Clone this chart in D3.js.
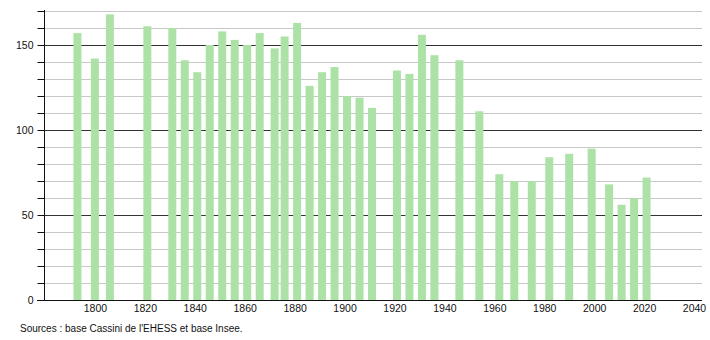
<!DOCTYPE html>
<html>
<head>
<meta charset="utf-8">
<script src="https://cdn.jsdelivr.net/npm/d3@7"></script>
<style>
  body { margin: 0; background: #fff; }
  text { font-family: "Liberation Sans", Arial, sans-serif; fill: #111; }
</style>
</head>
<body>
<div id="chart"></div>
<script>

// census years and population
var years = [1793, 1800, 1806, 1821, 1831, 1836, 1841, 1846, 1851, 1856, 1861, 1866, 1872, 1876, 1881,
             1886, 1891, 1896, 1901, 1906, 1911, 1921, 1926, 1931, 1936, 1946, 1954, 1962, 1968, 1975,
             1982, 1990, 1999, 2006, 2011, 2016, 2021];
var population = [157, 142, 168, 161, 160, 141, 134, 150, 158, 153, 150, 157, 148, 155, 163,
                  126, 134, 137, 120, 119, 113, 135, 133, 156, 144, 141, 111, 74, 70, 70,
                  84, 86, 89, 68, 56, 60, 72];
var xTicks = [1800, 1820, 1840, 1860, 1880, 1900, 1920, 1940, 1960, 1980, 2000, 2020, 2040];
var yTicks = [0, 50, 100, 150];
var source = "Sources : base Cassini de l'EHESS et base Insee.";

var data = years.map(function(y, i) { return {year: y, value: population[i]}; });

var W = 710, H = 340;
var m = {left: 44, right: 700, top: 11, bottom: 300};

var svg = d3.select("#chart").append("svg")
    .attr("width", W)
    .attr("height", H);

var x = d3.scaleLinear()
    .domain([1779.6, 2042.4])
    .range([m.left, m.right]);

var y = d3.scaleLinear()
    .domain([0, 170])
    .range([m.bottom, m.top]);

// grid lines, every 10, darker every 50
var gridVals = d3.range(10, 171, 10);
svg.append("g").selectAll("line")
    .data(gridVals)
    .enter().append("line")
    .attr("x1", m.left)
    .attr("x2", m.right + 2)
    .attr("y1", function(d) { return Math.round(y(d)) + 0.5; })
    .attr("y2", function(d) { return Math.round(y(d)) + 0.5; })
    .attr("stroke", function(d) { return d % 50 == 0 ? "#333" : "#c8c8c8"; })
    .attr("stroke-width", 1);

// bars
svg.append("g").selectAll("rect")
    .data(data)
    .enter().append("rect")
    .attr("x", function(d) { return x(d.year) - 4; })
    .attr("width", 8)
    .attr("y", function(d) { return y(d.value); })
    .attr("height", function(d) { return y(0) - y(d.value); })
    .attr("fill", "#ade2a7");

// y axis
var yAxis = d3.axisLeft(y)
    .tickValues(d3.range(0, 171, 10))
    .tickSize(7)
    .tickFormat(function(d) { return yTicks.indexOf(d) >= 0 ? d : ""; });

var yGroup = svg.append("g")
    .attr("transform", "translate(" + (m.left + 0.5) + ",0)")
    .call(yAxis);
yGroup.select(".domain").attr("stroke", "#111").attr("d", "M0," + (m.top - 1) + "V" + m.bottom);
yGroup.selectAll(".tick line").attr("stroke", "#111");
yGroup.selectAll(".tick text")
    .attr("x", -11)
    .style("font-size", "10.5px");

// x axis
var xAxis = d3.axisBottom(x)
    .tickValues(xTicks)
    .tickSize(0)
    .tickFormat(d3.format("d"));

var xGroup = svg.append("g")
    .attr("transform", "translate(0," + (m.bottom + 0.5) + ")")
    .call(xAxis);
xGroup.select(".domain").attr("stroke", "#111").attr("d", "M" + (m.left - 7) + ",0H" + (m.right + 2));
xGroup.selectAll(".tick text")
    .attr("y", 4)
    .style("font-size", "10.5px");

svg.append("text")
    .attr("x", 20)
    .attr("y", 332)
    .style("font-size", "10px")
    .text(source);

</script>
</body>
</html>
